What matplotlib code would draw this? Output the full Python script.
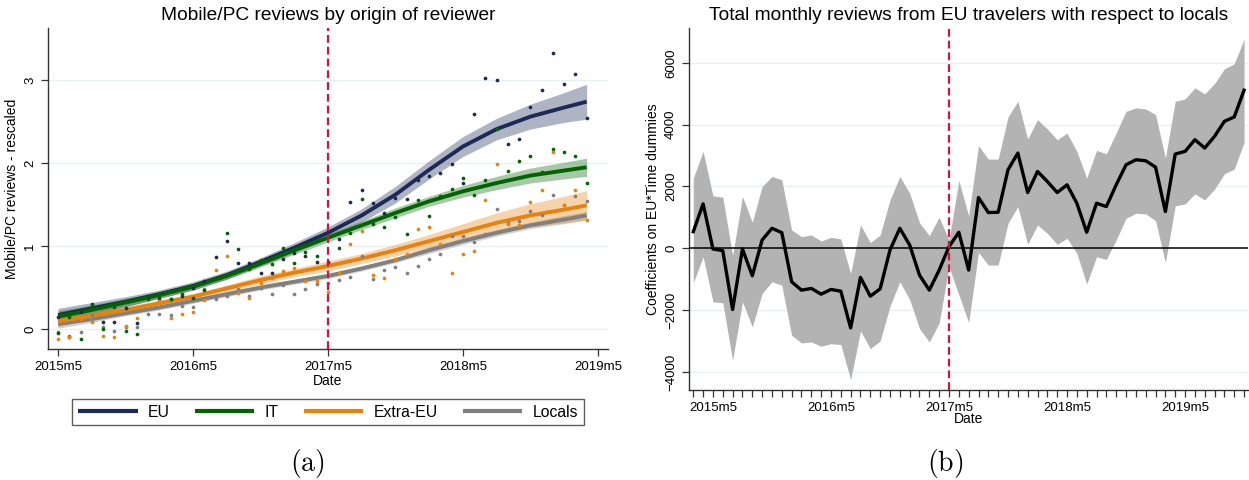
import matplotlib.pyplot as plt
import numpy as np
from matplotlib.ticker import FixedLocator, FuncFormatter

plt.rcParams['font.family'] = ['Liberation Sans', 'DejaVu Sans']
plt.rcParams['mathtext.fontset'] = 'cm'

# ---------------- panel (a): months since 2015m5 ----------------
months_a = np.arange(48)
eu_pts = [0.15, -0.10, 0.20, 0.30, 0.08, 0.08, 0.25, 0.07, 0.38, 0.36, 0.36, 0.40,
          0.50, 0.58, 0.87, 1.06, 0.79, 0.80, 0.67, 0.68, 0.85, 0.92, 0.88, 0.81,
          0.81, 1.08, 1.53, 1.68, 1.52, 1.40, 1.58, 1.57, 1.80, 1.85, 1.88, 1.99,
          1.76, 2.59, 3.02, 3.00, 2.23, 2.29, 2.68, 2.88, 3.33, 2.95, 3.07, 2.54]
it_pts = [-0.05, 0.14, -0.12, 0.29, 0.00, 0.27, -0.02, -0.06, 0.36, 0.40, 0.36, 0.42,
          0.37, 0.47, 0.62, 1.16, 0.96, 0.72, 0.83, 0.78, 0.98, 0.80, 0.93, 0.88,
          1.11, 0.98, 1.16, 1.57, 1.27, 1.23, 1.35, 1.14, 1.55, 1.36, 1.60, 1.69,
          1.82, 1.62, 1.80, 2.41, 1.91, 2.02, 2.08, 1.89, 2.17, 2.13, 2.08, 1.76]
ex_pts = [-0.12, -0.09, 0.12, 0.09, -0.08, -0.10, 0.04, 0.13, 0.29, 0.34, 0.13, 0.18,
          0.20, 0.35, 0.71, 0.88, 0.44, 0.37, 0.56, 0.61, 0.70, 0.74, 0.58, 0.58,
          0.45, 0.67, 1.02, 1.18, 0.65, 0.61, 0.84, 0.91, 1.21, 1.23, 1.03, 0.68,
          0.91, 0.94, 1.55, 1.99, 1.27, 1.25, 1.53, 1.67, 2.13, 1.49, 1.68, 1.32]
lo_pts = [-0.04, -0.08, -0.04, 0.17, 0.02, -0.02, 0.02, 0.03, 0.18, 0.18, 0.17, 0.28,
          0.26, 0.48, 0.36, 0.40, 0.48, 0.40, 0.49, 0.42, 0.53, 0.42, 0.48, 0.54,
          0.55, 0.59, 0.63, 0.88, 0.60, 0.71, 0.75, 0.68, 0.76, 0.84, 0.90, 1.12,
          1.12, 1.05, 1.14, 1.45, 1.28, 1.30, 1.42, 1.38, 1.61, 1.49, 1.60, 1.54]

# smoothed fits read at these months
fit_m = [0, 3, 6, 9, 12, 15, 18, 21, 24, 27, 30, 33, 36, 39, 42, 45, 47]
eu_fit = [0.17, 0.25, 0.33, 0.42, 0.52, 0.65, 0.81, 0.98, 1.16, 1.37, 1.62, 1.92, 2.20, 2.41, 2.56, 2.67, 2.74]
it_fit = [0.15, 0.23, 0.32, 0.41, 0.51, 0.64, 0.79, 0.95, 1.10, 1.25, 1.40, 1.54, 1.66, 1.76, 1.85, 1.91, 1.95]
ex_fit = [0.09, 0.16, 0.23, 0.31, 0.39, 0.49, 0.59, 0.68, 0.76, 0.85, 0.95, 1.06, 1.17, 1.28, 1.37, 1.44, 1.49]
lo_fit = [0.06, 0.12, 0.19, 0.26, 0.34, 0.42, 0.50, 0.57, 0.64, 0.73, 0.83, 0.95, 1.06, 1.16, 1.25, 1.32, 1.37]
eu_ci = [0.08, 0.07, 0.06, 0.05, 0.05, 0.05, 0.05, 0.06, 0.07, 0.08, 0.10, 0.11, 0.12, 0.13, 0.15, 0.18, 0.21]
it_ci = [0.07, 0.06, 0.05, 0.04, 0.04, 0.04, 0.04, 0.05, 0.05, 0.05, 0.06, 0.06, 0.07, 0.08, 0.09, 0.10, 0.11]
ex_ci = [0.06, 0.05, 0.04, 0.04, 0.04, 0.04, 0.05, 0.05, 0.06, 0.06, 0.07, 0.08, 0.10, 0.12, 0.14, 0.16, 0.18]
lo_ci = [0.05, 0.04, 0.03, 0.03, 0.03, 0.03, 0.03, 0.03, 0.03, 0.03, 0.03, 0.04, 0.04, 0.04, 0.04, 0.05, 0.05]

year_ticks = [0, 12, 24, 36, 48]
year_labels = ['2015m5', '2016m5', '2017m5', '2018m5', '2019m5']

# ---------------- panel (b): months since 2015m5, from 2015m3 ----------------
months_b = np.arange(-2, 55)
coef = [540, 1438, -20, -75, -1978, -20, -886, 270, 649, 508, -1081, -1351, -1297, -1481,
        -1330, -1384, -2573, -940, -1546, -1308, -54, 649, 108, -865, -1351, -703, 54, 519,
        -703, 1643, 1157, 1167, 2540, 3081, 1805, 2486, 2162, 1805, 2054, 1459, 519, 1459,
        1351, 2054, 2702, 2865, 2832, 2627, 1189, 3048, 3135, 3513, 3243, 3621, 4108, 4248, 5113]
coef_hi = [2270, 3135, 1697, 1654, -230, 1676, 843, 2000, 2324, 2216, 595, 378, 432, 238,
           357, 303, -811, 757, 184, 432, 1568, 2324, 1784, 832, 411, 1005, 270, 2194,
           1049, 3319, 2886, 2886, 4248, 4756, 3535, 4162, 3859, 3513, 3730, 3135, 2270, 3167,
           3059, 3730, 4432, 4540, 4508, 4324, 2919, 4756, 4832, 5189, 4994, 5329, 5806, 5968, 6770]
coef_lo = [-1113, -270, -1730, -1762, -3621, -1730, -2540, -1459, -1081, -1189, -2811, -3059,
           -3027, -3167, -3081, -3113, -4248, -2670, -3243, -2994, -1870, -1081, -1654, -2594,
           -3027, -2410, -600, -1500, -2400, -130, -540, -540, 811, 1351, 130, 757, 486, 130,
           324, -162, -1157, -270, -357, 270, 973, 1135, 1113, 897, -465, 1373, 1438, 1762,
           1568, 1914, 2411, 2562, 3427]

navy = '#1c2a56'
green = '#006400'
orange = '#e8820c'
grey = '#808080'
red = '#d0143c'
grid_c = '#e8f0f0'
dash = (0, (3.5, 1.8))

fig = plt.figure(figsize=(12.49, 4.8), dpi=100)
ax1 = fig.add_axes([0.0384, 0.273, 0.4484, 0.669])
ax2 = fig.add_axes([0.5516, 0.1875, 0.4476, 0.7545])

# ---- left panel
series = [('Locals', lo_pts, lo_fit, lo_ci, grey),
          ('EU', eu_pts, eu_fit, eu_ci, navy),
          ('IT', it_pts, it_fit, it_ci, green),
          ('Extra-EU', ex_pts, ex_fit, ex_ci, orange)]
handles = {}
for name, pts, fit, ci, col in series:
    fit = np.array(fit)
    ci = np.array(ci)
    ax1.fill_between(fit_m, fit - ci, fit + ci, color=col, alpha=0.35, lw=0, zorder=2)
    h, = ax1.plot(fit_m, fit, color=col, lw=2.8, zorder=3, solid_capstyle='butt',
                  solid_joinstyle='round')
    ax1.scatter(months_a, pts, s=7, color=col, zorder=4, linewidths=0)
    handles[name] = h

ax1.axvline(24, color=red, lw=1.6, ls=dash, zorder=5)
ax1.set_xlim(-0.9, 48.9)
ax1.set_ylim(-0.24, 3.63)
ax1.set_yticks([0, 1, 2, 3])
ax1.set_xticks(year_ticks)
ax1.set_xticklabels(year_labels)
for v in [0, 1, 2, 3]:
    ax1.axhline(v, color=grid_c, lw=1, zorder=0)
ax1.set_title('Mobile/PC reviews by origin of reviewer', fontsize=13.8, pad=6)
ax1.set_xlabel('Date', fontsize=10, labelpad=1)
ax1.set_ylabel('Mobile/PC reviews - rescaled', fontsize=10, labelpad=4)

leg = ax1.legend([handles['EU'], handles['IT'], handles['Extra-EU'], handles['Locals']],
                 ['EU', 'IT', 'Extra-EU', 'Locals'], ncol=4, loc='center',
                 bbox_to_anchor=(0.5, -0.197), fontsize=11.3, handlelength=3.8,
                 handletextpad=0.65, columnspacing=1.6, frameon=True, fancybox=False,
                 edgecolor='#333333', borderpad=0.35)
leg.get_frame().set_linewidth(1.0)
for line in leg.get_lines():
    line.set_linewidth(3)

# ---- right panel
ax2.fill_between(months_b, coef_lo, coef_hi, color='#b3b3b3', lw=0, zorder=2)
ax2.axhline(0, color='black', lw=1.1, zorder=3)
ax2.plot(months_b, coef, color='black', lw=2.4, zorder=4)
ax2.axvline(24, color=red, lw=1.6, ls=dash, zorder=5)
for v in [-4000, -2000, 2000, 4000, 6000]:
    ax2.axhline(v, color=grid_c, lw=1, zorder=0)
ax2.set_xlim(-2.44, 54.4)
ax2.set_ylim(-4580, 7130)
ax2.set_yticks([-4000, -2000, 0, 2000, 4000, 6000])
ax2.xaxis.set_major_locator(FixedLocator(list(months_b)))
ax2.xaxis.set_major_formatter(FuncFormatter(
    lambda x, _: year_labels[int(round(x)) // 12] if int(round(x)) in year_ticks else ''))
ax2.set_title('Total monthly reviews from EU travelers with respect to locals',
              fontsize=13.8, pad=6)
ax2.set_xlabel('Date', fontsize=10, labelpad=-1)
ax2.set_ylabel('Coefficients on EU*Time dummies', fontsize=10, labelpad=4)

for ax in (ax1, ax2):
    for s in ('top', 'right'):
        ax.spines[s].set_visible(False)
    for s in ('left', 'bottom'):
        ax.spines[s].set_color('#333333')
        ax.spines[s].set_linewidth(1.0)
    ax.tick_params(axis='both', direction='out', length=5, width=0.9,
                   color='#333333', labelsize=9.5)
    for lab in ax.get_yticklabels():
        lab.set_rotation(90)
        lab.set_va('center')

fig.text(0.246, 0.035, r'$(\mathrm{a})$', ha='center', va='center', fontsize=20)
fig.text(0.757, 0.035, r'$(\mathrm{b})$', ha='center', va='center', fontsize=20)

fig.savefig('out.png', dpi=100)
